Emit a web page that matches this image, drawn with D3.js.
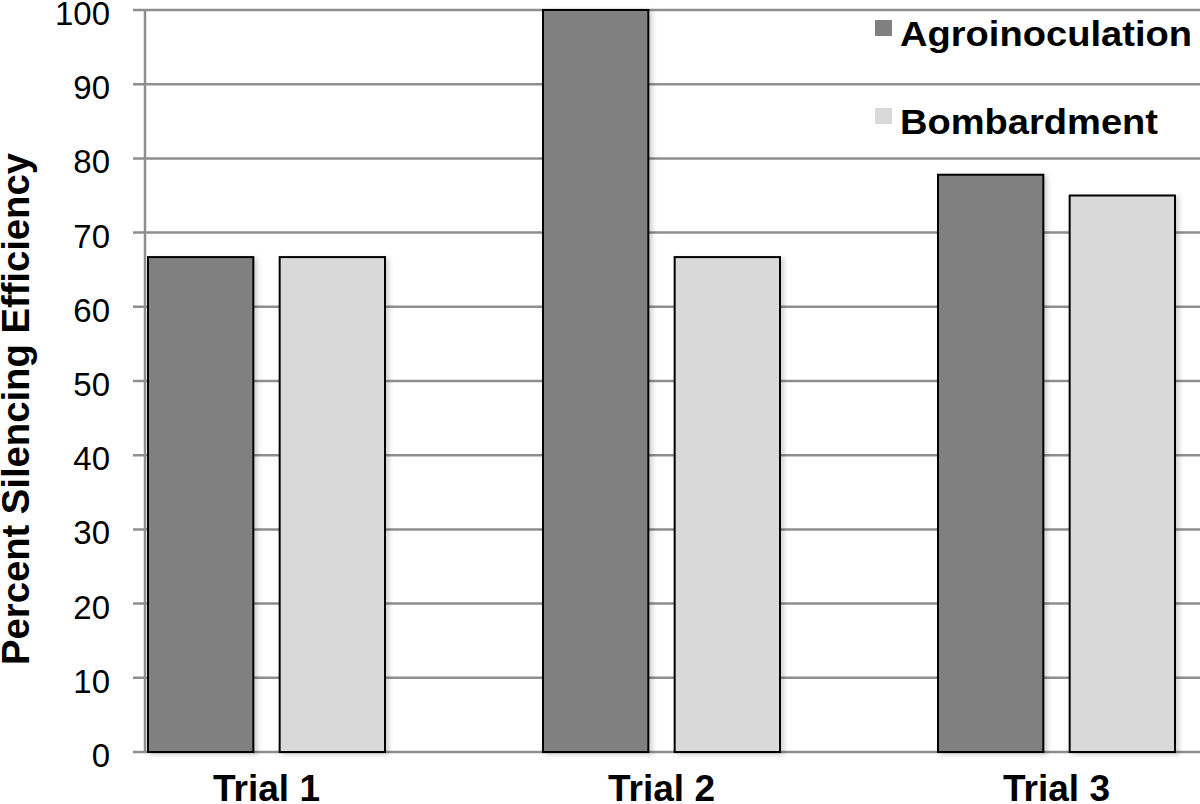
<!DOCTYPE html>
<html>
<head>
<meta charset="utf-8">
<script src="https://cdn.jsdelivr.net/npm/d3@7"></script>
<style>
html,body{margin:0;padding:0;background:#fff;}
svg{display:block;}
</style>
</head>
<body>
<script>
const categories = ["Trial 1", "Trial 2", "Trial 3"];
const seriesNames = ["Agroinoculation", "Bombardment"];
const agroinoculation = [66.7, 100, 77.8];
const bombardment = [66.7, 66.7, 75];
const yTicks = [0, 10, 20, 30, 40, 50, 60, 70, 80, 90, 100];
const colors = ["#808080", "#d9d9d9"];

const W = 1200, H = 804;
const svg = d3.select("body").append("svg").attr("width", W).attr("height", H);

const defs = svg.append("defs");
const f = defs.append("filter").attr("id","sh").attr("x","-10%").attr("y","-10%").attr("width","130%").attr("height","130%");
f.append("feDropShadow").attr("dx",3).attr("dy",2).attr("stdDeviation",2.5).attr("flood-color","#000").attr("flood-opacity",0.18);

const axisX = 145, plotRight = 1200;
const y = d3.scaleLinear().domain([0, 100]).range([752, 10]);
const x0 = d3.scaleBand().domain(categories).range([69, 1254]).paddingInner(0).paddingOuter(0);
const x1 = d3.scaleBand().domain(seriesNames).range([0, 237]).paddingInner(0.2);

const gridColor = "#8e8e8e";

// gridlines + ticks
svg.append("g").selectAll("line").data(yTicks).join("line")
  .attr("x1", 133).attr("x2", plotRight)
  .attr("y1", d => y(d)).attr("y2", d => y(d))
  .attr("stroke", gridColor).attr("stroke-width", 2.5);

// y axis line
svg.append("line").attr("x1", axisX).attr("x2", axisX)
  .attr("y1", y(100)).attr("y2", y(0))
  .attr("stroke", gridColor).attr("stroke-width", 2.5);

// tick labels
svg.append("g").selectAll("text").data(yTicks).join("text")
  .attr("x", 110).attr("y", d => y(d) + 15)
  .attr("text-anchor", "end")
  .attr("font-family", "'Liberation Sans', Arial, sans-serif")
  .attr("font-size", 33).attr("fill", "#000")
  .text(d => d);

// bars
const data = categories.map((c, i) => ({cat: c, vals: [agroinoculation[i], bombardment[i]]}));
const groups = svg.append("g").selectAll("g").data(data).join("g")
  .attr("transform", d => `translate(${x0(d.cat) + x0.bandwidth()/2 - 118.5},0)`);
groups.selectAll("rect").data(d => d.vals.map((v, j) => ({s: seriesNames[j], v, j}))).join("rect")
  .attr("x", d => x1(d.s)).attr("width", x1.bandwidth())
  .attr("y", d => y(d.v)).attr("height", d => y(0) - y(d.v))
  .attr("fill", d => colors[d.j]).attr("stroke", "#000").attr("stroke-width", 2)
  .attr("filter", "url(#sh)");

// x labels
svg.append("g").selectAll("text").data(categories).join("text")
  .attr("x", d => x0(d) + x0.bandwidth()/2).attr("y", 801)
  .attr("text-anchor", "middle")
  .attr("font-family", "'Liberation Sans', Arial, sans-serif")
  .attr("font-weight", "bold").attr("font-size", 37).attr("fill", "#000")
  .text(d => d);

// y title
svg.append("text")
  .attr("transform", "translate(29,409) rotate(-90)")
  .attr("text-anchor", "middle")
  .attr("font-family", "'Liberation Sans', Arial, sans-serif")
  .attr("font-weight", "bold").attr("font-size", 38)
  .attr("textLength", 512).attr("lengthAdjust", "spacingAndGlyphs")
  .text("Percent Silencing Efficiency");

// legend
const legendLens = [292, 258];
const leg = svg.append("g").selectAll("g").data(seriesNames).join("g")
  .attr("transform", (d, i) => `translate(875,${20 + i * 88})`);
leg.append("rect").attr("width", 17).attr("height", 16)
  .attr("fill", (d, i) => colors[i]);
leg.append("text").attr("x", 25).attr("y", 26)
  .attr("font-family", "'Liberation Sans', Arial, sans-serif")
  .attr("font-weight", "bold").attr("font-size", 35)
  .attr("textLength", (d, i) => legendLens[i]).attr("lengthAdjust", "spacingAndGlyphs")
  .text(d => d);
</script>
</body>
</html>
